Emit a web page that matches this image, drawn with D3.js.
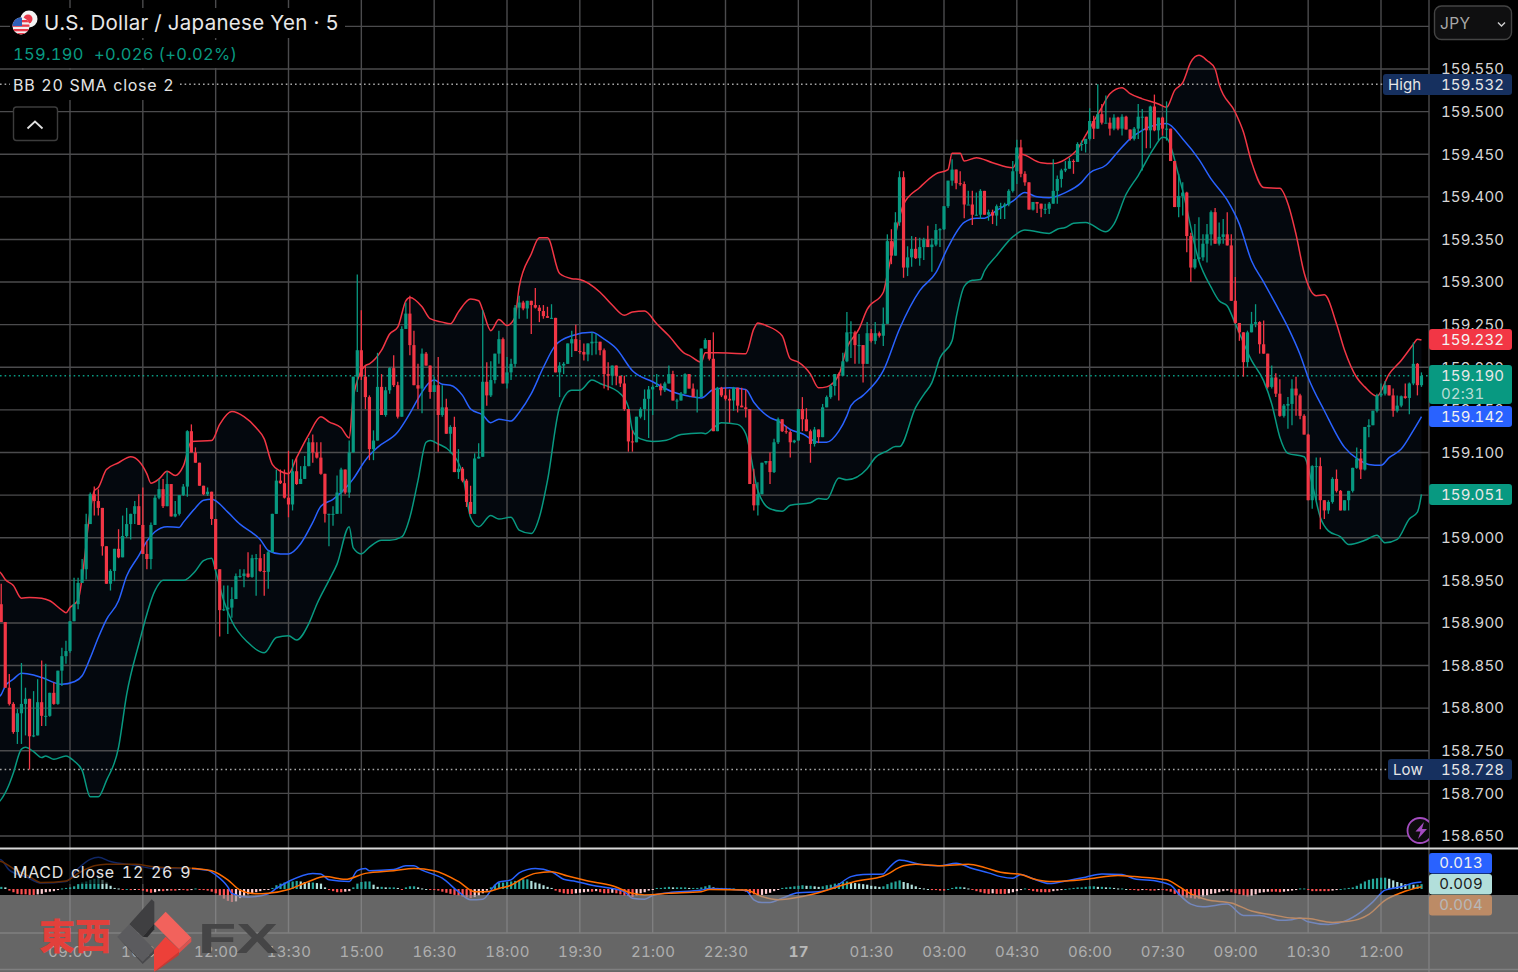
<!DOCTYPE html>
<html>
<head>
<meta charset="utf-8">
<title>USD/JPY 5</title>
<script src="https://cdn.jsdelivr.net/npm/d3@7"></script>
<style>
    html, body { margin: 0; padding: 0; background: #000; overflow: hidden; }
    text { font-family: Inter, "Liberation Sans", sans-serif; font-variant-numeric: tabular-nums; }
</style>
</head>
<body>
<svg id="chart" width="1518" height="972"></svg>
<script>
"use strict";

//// candles: first bar is 07:35, every bar is 5 minutes, bar 0 is 09:00
const firstBar = -17;
const firstOpen = 158.922;
const closes = [
    158.901,158.824,158.805,158.772,158.794,158.805,158.811,158.767,158.768,158.807,158.791,158.791,158.818,158.805,158.844,158.861,158.867,
    158.902,158.922,158.947,158.963,159.016,159.051,159.043,159.035,158.990,158.946,158.961,158.987,158.977,159.002,159.016,159.028,159.037,159.015,158.981,158.975,
    159.015,159.047,159.057,159.037,159.063,159.025,159.028,159.050,159.060,159.125,159.100,159.088,159.061,159.051,159.054,159.022,158.963,158.915,158.916,158.918,
    158.928,158.955,158.955,158.958,158.954,158.976,158.976,158.961,158.960,158.983,159.028,159.067,159.064,159.047,159.039,159.078,159.063,159.069,159.084,159.112,
    159.100,159.094,159.075,159.028,159.028,159.028,159.053,159.080,159.053,159.100,
    159.189,159.220,159.189,159.165,159.104,159.114,159.177,159.144,159.173,159.199,159.179,159.142,159.245,159.263,159.226,159.179,159.175,159.216,159.202,159.171,
    159.179,159.144,159.153,159.122,159.130,159.077,159.081,159.067,159.042,159.028,159.093,159.095,159.183,159.167,159.185,159.216,159.233,159.181,159.194,159.204,
    159.270,159.276,159.269,159.278,159.273,159.270,159.266,159.260,159.258,159.258,159.194,159.202,159.204,159.228,159.233,159.219,159.218,159.215,159.228,159.230,
    159.230,159.220,159.192,159.190,159.202,159.190,159.181,159.151,159.113,159.112,159.142,159.151,159.163,159.174,159.177,159.178,159.173,159.181,159.192,159.161,
    159.161,159.169,159.192,159.175,159.165,
    159.165,159.222,159.232,159.210,159.125,159.176,159.167,159.163,159.161,159.176,159.155,159.153,159.151,159.063,159.038,159.051,159.088,159.090,159.077,159.112,
    159.139,159.125,159.124,159.112,159.114,159.151,159.139,159.125,159.110,159.127,159.118,159.153,159.165,159.178,159.192,159.190,159.207,159.241,159.241,159.226,
    159.226,159.204,159.240,159.231,159.240,159.237,159.251,159.348,159.331,159.370,159.423,159.317,159.329,159.339,159.328,159.341,159.350,159.341,159.344,159.361,
    159.362,159.389,159.419,159.432,159.416,159.415,159.391,159.391,159.379,159.379,159.407,159.379,159.382,159.378,159.389,159.389,159.391,159.407,159.430,159.458,
    159.427,159.417,159.385,
    159.394,159.392,159.386,159.386,159.392,159.407,159.421,159.431,159.433,159.442,159.441,159.462,159.462,159.468,159.489,159.480,159.497,159.487,159.487,159.480,
    159.493,159.480,159.494,159.479,159.468,159.480,159.494,159.494,159.478,159.506,159.478,159.493,159.480,159.480,159.442,159.388,159.401,159.405,159.354,159.317,
    159.327,159.329,159.345,159.356,159.382,159.345,159.353,159.356,159.343,159.278,159.252,159.241,159.206,159.241,159.251,159.253,159.227,159.216,159.177,159.188,
    159.169,159.143,159.155,159.157,159.175,159.167,159.143,159.121,159.044,159.084,159.084,159.044,159.032,159.042,159.069,159.055,159.032,159.044,159.055,159.082,
    159.093,159.080,159.130,159.132,159.149,159.167,159.169,159.179,159.167,159.149,159.155,159.166,159.164,159.181,159.204,159.179,159.190
];
const highs = [
    158.946,158.901,158.840,158.807,158.799,158.853,158.824,158.811,158.820,158.834,158.856,158.852,158.818,158.830,158.844,158.871,158.879,
    158.902,158.953,158.953,158.975,159.028,159.053,159.060,159.057,159.035,158.990,158.963,158.987,159.010,159.026,159.035,159.028,159.043,159.051,159.059,158.996,
    159.018,159.050,159.069,159.069,159.078,159.063,159.043,159.050,159.063,159.126,159.133,159.106,159.088,159.061,159.059,159.054,159.022,158.963,158.944,158.944,
    158.942,158.958,158.963,158.963,158.983,158.980,158.981,158.992,158.981,158.985,159.028,159.080,159.080,159.080,159.102,159.092,159.094,159.084,159.096,159.117,
    159.121,159.112,159.112,159.075,159.028,159.037,159.073,159.082,159.080,159.114,
    159.189,159.309,159.267,159.202,159.167,159.126,159.217,159.192,159.177,159.200,159.214,159.183,159.248,159.276,159.284,159.243,159.204,159.222,159.218,159.202,
    159.189,159.212,159.179,159.163,159.132,159.142,159.104,159.083,159.069,159.061,159.099,159.111,159.267,159.206,159.207,159.216,159.243,159.235,159.212,159.210,
    159.273,159.284,159.278,159.278,159.278,159.293,159.273,159.273,159.271,159.274,159.258,159.206,159.206,159.228,159.243,159.250,159.232,159.228,159.228,159.241,
    159.239,159.230,159.222,159.206,159.202,159.200,159.190,159.190,159.151,159.126,159.142,159.153,159.174,159.178,159.179,159.192,159.181,159.183,159.202,159.196,
    159.163,159.171,159.193,159.189,159.181,
    159.174,159.222,159.234,159.229,159.241,159.177,159.177,159.176,159.174,159.177,159.176,159.176,159.174,159.151,159.081,159.065,159.088,159.090,159.100,159.116,
    159.141,159.139,159.131,159.126,159.115,159.151,159.165,159.152,159.127,159.130,159.127,159.157,159.167,159.180,159.192,159.194,159.217,159.265,159.254,159.243,
    159.239,159.226,159.253,159.245,159.253,159.242,159.270,159.356,159.362,159.382,159.430,159.430,159.342,159.354,159.353,159.352,159.352,159.366,159.351,159.368,
    159.363,159.389,159.419,159.444,159.432,159.430,159.418,159.407,159.407,159.405,159.409,159.407,159.385,159.385,159.391,159.393,159.393,159.409,159.442,159.467,
    159.467,159.430,159.417,
    159.394,159.392,159.392,159.392,159.394,159.444,159.425,159.433,159.442,159.446,159.444,159.464,159.466,159.468,159.504,159.495,159.532,159.509,159.519,159.493,
    159.497,159.494,159.497,159.495,159.479,159.482,159.509,159.503,159.494,159.507,159.520,159.493,159.494,159.512,159.480,159.442,159.427,159.417,159.406,159.358,
    159.368,159.376,159.356,159.368,159.384,159.387,159.370,159.374,159.382,159.356,159.306,159.252,159.241,159.243,159.265,159.274,159.254,159.255,159.216,159.202,
    159.193,159.186,159.157,159.165,159.186,159.189,159.169,159.145,159.122,159.085,159.094,159.094,159.044,159.044,159.071,159.080,159.056,159.044,159.055,159.082,
    159.106,159.104,159.130,159.139,159.149,159.169,159.181,159.184,159.179,159.175,159.167,159.167,159.181,159.182,159.229,159.205,159.194
];
const lows = [
    158.901,158.824,158.803,158.770,158.758,158.758,158.768,158.728,158.766,158.768,158.779,158.779,158.790,158.804,158.804,158.826,158.852,
    158.865,158.902,158.916,158.947,158.951,159.016,159.026,159.026,158.979,158.946,158.938,158.949,158.976,158.977,159.000,158.998,159.016,159.015,158.981,158.963,
    158.963,159.015,159.045,159.035,159.037,159.025,159.024,159.026,159.049,159.048,159.100,159.088,159.061,159.050,159.049,159.015,158.963,158.884,158.914,158.887,
    158.906,158.928,158.953,158.942,158.953,158.953,158.932,158.960,158.932,158.940,158.985,159.028,159.063,159.046,159.024,159.032,159.062,159.063,159.069,159.084,
    159.088,159.093,159.074,159.018,158.990,159.014,159.028,159.028,159.051,159.047,
    159.101,159.171,159.185,159.151,159.091,159.091,159.132,159.144,159.142,159.169,159.177,159.140,159.142,159.245,159.214,159.179,159.151,159.146,159.202,159.163,
    159.171,159.101,159.142,159.122,159.099,159.077,159.069,159.065,159.036,159.028,159.028,159.093,159.095,159.155,159.165,159.181,159.204,159.181,159.175,159.185,
    159.200,159.257,159.267,159.257,159.239,159.269,159.253,159.257,159.258,159.257,159.194,159.165,159.192,159.204,159.212,159.219,159.216,159.208,159.207,159.214,
    159.215,159.214,159.175,159.173,159.179,159.179,159.177,159.149,159.101,159.101,159.112,159.140,159.138,159.117,159.144,159.177,159.167,159.171,159.181,159.161,
    159.151,159.161,159.169,159.175,159.165,
    159.147,159.165,159.222,159.208,159.125,159.125,159.165,159.161,159.135,159.149,159.147,159.153,159.141,159.063,159.032,159.026,159.051,159.086,159.063,159.076,
    159.110,159.124,159.122,159.094,159.111,159.114,159.125,159.125,159.088,159.107,159.111,159.118,159.153,159.163,159.167,159.161,159.190,159.206,159.211,159.204,
    159.204,159.182,159.204,159.229,159.227,159.235,159.225,159.251,159.321,159.331,159.366,159.305,159.307,159.318,159.327,159.319,159.326,159.341,159.312,159.342,
    159.341,159.361,159.387,159.413,159.409,159.413,159.375,159.391,159.367,159.378,159.374,159.379,159.372,159.368,159.366,159.374,159.374,159.389,159.405,159.415,
    159.423,159.413,159.385,
    159.384,159.381,159.376,159.380,159.380,159.392,159.392,159.411,159.429,159.433,159.427,159.441,159.454,159.452,159.466,159.468,159.480,159.485,159.487,159.472,
    159.478,159.478,159.472,159.479,159.466,159.466,159.468,159.431,159.457,159.457,159.477,159.466,159.472,159.466,159.442,159.388,159.376,159.378,159.335,159.300,
    159.315,159.325,159.325,159.323,159.343,159.345,159.343,159.345,159.343,159.278,159.251,159.231,159.189,159.200,159.241,159.247,159.216,159.216,159.175,159.175,
    159.165,159.142,159.141,159.128,159.132,159.143,159.139,159.121,159.044,159.034,159.044,159.010,159.022,159.028,159.040,159.053,159.032,159.032,159.032,159.053,
    159.081,159.069,159.079,159.118,159.132,159.147,159.165,159.167,159.167,159.142,159.147,159.153,159.163,159.145,159.179,159.167,159.177
];

//// bollinger bands, [bar, price] read at the bends of each line
const bbUpper = [[-18,158.962],[-17,158.958],[-16,158.951],[-14,158.944],[-12,158.929],[-10,158.930],[-7,158.929],[-5,158.926],[-2,158.915],[-1,158.912],[0,158.918],[2,158.927],[3,158.953],[5,159.032],[6,159.055],[7,159.059],[9,159.080],[12,159.088],[15,159.095],[17,159.090],[19,159.075],[20,159.064],[22,159.069],[24,159.078],[26,159.073],[28,159.084],[30,159.113],[35,159.114],[37,159.133],[40,159.148],[43,159.142],[46,159.129],[48,159.116],[50,159.086],[52,159.078],[54,159.075],[56,159.094],[59,159.121],[62,159.142],[64,159.136],[67,159.129],[69,159.117],[70,159.165],[73,159.202],[74,159.204],[77,159.220],[79,159.239],[81,159.247],[83,159.278],[84,159.282],[87,159.271],[89,159.257],[92,159.253],[94,159.251],[96,159.265],[99,159.280],[101,159.278],[102,159.267],[104,159.243],[106,159.256],[108,159.249],[110,159.259],[111,159.294],[114,159.333],[116,159.352],[118,159.352],[121,159.310],[124,159.304],[126,159.303],[131,159.288],[134,159.273],[137,159.261],[139,159.265],[142,159.266],[145,159.251],[148,159.237],[152,159.216],[153,159.214],[156,159.206],[157,159.217],[160,159.217],[167,159.216],[169,159.245],[170,159.252],[172,159.249],[176,159.237],[178,159.210],[180,159.206],[183,159.192],[185,159.176],[187,159.177],[190,159.191],[192,159.223],[195,159.245],[197,159.268],[201,159.288],[202,159.309],[206,159.391],[210,159.411],[214,159.427],[217,159.432],[218,159.451],[220,159.451],[221,159.442],[224,159.446],[228,159.440],[233,159.434],[235,159.450],[240,159.440],[243,159.439],[246,159.444],[249,159.456],[251,159.472],[255,159.505],[257,159.521],[260,159.528],[262,159.521],[265,159.515],[269,159.509],[271,159.505],[273,159.525],[275,159.534],[277,159.558],[279,159.566],[281,159.560],[283,159.550],[284,159.532],[288,159.499],[290,159.476],[292,159.441],[295,159.411],[299,159.410],[301,159.392],[303,159.356],[305,159.311],[308,159.284],[310,159.285],[313,159.251],[315,159.220],[318,159.188],[320,159.177],[323,159.166],[326,159.192],[329,159.208],[332,159.227],[333,159.233],[334,159.232]];
const bbBasis = [[-18,158.812],[-17,158.816],[-16,158.826],[-14,158.834],[-12,158.841],[-9,158.839],[-7,158.836],[-2,158.828],[1,158.831],[3,158.838],[5,158.859],[7,158.883],[9,158.904],[12,158.926],[14,158.955],[17,158.979],[19,158.996],[21,159.007],[24,159.013],[27,159.012],[28,159.018],[31,159.035],[33,159.044],[35,159.045],[39,159.030],[42,159.016],[45,159.006],[47,158.998],[49,158.985],[52,158.981],[54,158.981],[57,158.993],[60,159.018],[62,159.037],[65,159.045],[69,159.063],[70,159.069],[73,159.091],[76,159.106],[81,159.124],[84,159.146],[86,159.163],[89,159.183],[90,159.185],[92,159.180],[94,159.179],[97,159.167],[99,159.151],[102,159.144],[104,159.135],[106,159.139],[109,159.137],[111,159.147],[114,159.169],[117,159.200],[120,159.226],[124,159.237],[129,159.241],[132,159.233],[135,159.222],[139,159.196],[144,159.183],[149,159.171],[153,159.166],[156,159.164],[159,159.174],[163,159.176],[167,159.174],[169,159.159],[173,159.141],[175,159.137],[178,159.127],[181,159.122],[185,159.112],[187,159.112],[190,159.125],[192,159.143],[193,159.155],[196,159.167],[201,159.196],[205,159.245],[210,159.290],[214,159.311],[217,159.341],[221,159.370],[224,159.375],[226,159.375],[229,159.384],[233,159.395],[236,159.405],[239,159.400],[242,159.399],[246,159.405],[250,159.417],[252,159.428],[256,159.437],[259,159.453],[262,159.468],[265,159.478],[271,159.486],[275,159.468],[279,159.444],[282,159.421],[286,159.396],[289,159.368],[292,159.325],[295,159.300],[298,159.274],[301,159.247],[304,159.215],[306,159.188],[310,159.149],[315,159.106],[318,159.093],[321,159.086],[324,159.085],[326,159.094],[329,159.104],[332,159.126],[334,159.142]];
const bbLower = [[-18,158.688],[-17,158.693],[-15,158.711],[-14,158.724],[-12,158.752],[-11,158.754],[-9,158.749],[-7,158.742],[-6,158.744],[-4,158.740],[-1,158.744],[1,158.738],[3,158.727],[5,158.696],[7,158.696],[9,158.715],[12,158.754],[14,158.816],[17,158.875],[21,158.938],[23,158.950],[28,158.950],[31,158.961],[33,158.973],[35,158.976],[36,158.961],[38,158.926],[40,158.902],[44,158.877],[48,158.865],[51,158.883],[54,158.885],[56,158.880],[59,158.899],[61,158.922],[64,158.950],[66,158.969],[69,159.013],[70,158.988],[72,158.981],[74,158.989],[77,158.997],[79,158.997],[82,159.001],[84,159.024],[86,159.067],[88,159.112],[89,159.114],[91,159.110],[94,159.101],[97,159.075],[99,159.024],[101,159.013],[104,159.026],[106,159.022],[109,159.024],[111,159.009],[114,159.005],[116,159.024],[118,159.067],[121,159.153],[124,159.173],[126,159.173],[129,159.185],[131,159.181],[136,159.169],[138,159.153],[139,159.126],[141,159.116],[144,159.113],[147,159.114],[151,159.121],[156,159.123],[157,159.122],[159,159.129],[161,159.135],[165,159.133],[167,159.122],[170,159.055],[173,159.034],[176,159.031],[178,159.038],[183,159.041],[185,159.046],[187,159.045],[190,159.070],[192,159.068],[197,159.081],[199,159.094],[202,159.102],[204,159.107],[205,159.107],[209,159.153],[211,159.168],[213,159.182],[215,159.211],[218,159.231],[219,159.258],[221,159.295],[223,159.302],[225,159.303],[226,159.313],[229,159.331],[233,159.353],[236,159.361],[242,159.357],[244,159.362],[246,159.364],[248,159.369],[251,159.370],[256,159.359],[258,159.368],[261,159.403],[264,159.425],[268,159.458],[270,159.470],[271,159.469],[274,159.425],[275,159.407],[279,159.325],[282,159.294],[284,159.278],[286,159.272],[288,159.251],[292,159.208],[295,159.184],[297,159.157],[299,159.118],[301,159.099],[305,159.095],[307,159.063],[309,159.024],[311,159.008],[314,159.001],[316,158.992],[320,158.997],[323,159.003],[325,158.994],[328,158.998],[331,159.022],[333,159.030],[334,159.051]];

//// macd pane
const macdLine = [[-18,0.056],[-17,0.054],[-15,0.035],[-11,0.023],[-7,0.011],[-1,0.014],[2,0.038],[5,0.055],[7,0.059],[10,0.051],[16,0.044],[21,0.038],[29,0.038],[34,0.035],[36,0.026],[39,0.004],[40,-0.008],[44,-0.015],[49,-0.009],[51,0.001],[54,0.014],[60,0.029],[62,0.028],[64,0.017],[69,0.014],[71,0.034],[73,0.038],[74,0.034],[80,0.036],[83,0.043],[85,0.043],[87,0.035],[92,0.020],[96,-0.005],[99,-0.020],[102,-0.019],[105,0.007],[106,0.013],[109,0.017],[111,0.030],[113,0.036],[115,0.038],[119,0.032],[122,0.018],[125,0.014],[129,0.007],[134,0.001],[137,-0.005],[139,-0.017],[142,-0.019],[144,-0.012],[148,-0.007],[156,-0.002],[158,0.001],[167,-0.003],[169,-0.020],[171,-0.025],[173,-0.025],[176,-0.017],[180,-0.007],[185,-0.005],[189,0.004],[193,0.023],[196,0.027],[201,0.028],[202,0.036],[205,0.054],[210,0.046],[215,0.043],[219,0.048],[223,0.038],[227,0.030],[230,0.023],[233,0.020],[235,0.027],[238,0.019],[242,0.010],[246,0.015],[251,0.022],[255,0.028],[260,0.027],[263,0.019],[269,0.014],[272,0.007],[274,-0.009],[277,-0.028],[280,-0.033],[286,-0.028],[290,-0.049],[294,-0.049],[299,-0.058],[302,-0.057],[304,-0.054],[306,-0.061],[311,-0.066],[315,-0.060],[319,-0.043],[322,-0.024],[325,-0.002],[329,0.004],[332,0.011],[334,0.013]];
const macdSignal = [[-18,0.053],[-17,0.051],[-14,0.038],[-10,0.023],[-7,0.012],[-1,0.015],[2,0.029],[6,0.043],[9,0.046],[16,0.046],[21,0.041],[31,0.038],[35,0.034],[39,0.017],[42,-0.002],[46,-0.009],[49,-0.008],[54,-0.001],[59,0.014],[63,0.023],[68,0.018],[73,0.029],[80,0.034],[85,0.038],[90,0.034],[96,0.014],[100,-0.005],[103,-0.005],[106,0.001],[109,0.007],[112,0.020],[115,0.029],[119,0.032],[123,0.024],[128,0.015],[134,0.006],[139,-0.008],[142,-0.011],[148,-0.008],[156,-0.005],[158,-0.001],[167,-0.002],[171,-0.014],[175,-0.020],[181,-0.014],[185,-0.007],[194,0.014],[201,0.024],[206,0.043],[209,0.046],[215,0.043],[222,0.046],[226,0.040],[230,0.031],[235,0.027],[238,0.019],[242,0.014],[246,0.015],[252,0.019],[259,0.025],[263,0.023],[271,0.017],[274,0.005],[277,-0.009],[281,-0.020],[287,-0.026],[292,-0.041],[298,-0.049],[302,-0.054],[306,-0.055],[312,-0.062],[316,-0.060],[321,-0.047],[325,-0.021],[329,-0.007],[334,0.004]];
const macdHist = [
    0.004,0.003,-0.003,-0.006,-0.009,-0.010,-0.010,-0.011,-0.011,-0.010,-0.009,-0.006,-0.005,-0.004,-0.002,0.001,0.002,
    0.003,0.005,0.009,0.012,0.014,0.017,0.019,0.020,0.017,0.012,0.006,0.002,0.001,-0.001,0,-0.002,-0.001,-0.001,-0.003,-0.005,-0.007,-0.006,-0.004,-0.004,-0.003,-0.003,-0.003,-0.002,-0.002,-0.003,-0.002,0.001,
    -0.001,-0.002,-0.003,-0.005,-0.008,-0.012,-0.018,-0.022,-0.024,-0.023,-0.017,-0.013,-0.010,-0.008,-0.006,-0.004,-0.002,-0.001,0.002,0.007,0.010,0.012,0.014,0.014,0.015,0.014,0.013,0.012,0.012,0.011,0.010,
    0.003,-0.002,-0.004,-0.006,-0.006,-0.005,-0.004,0.003,0.010,0.013,0.014,0.014,0.008,0.004,0.004,0.003,0.003,0.003,0.002,-0.001,0.003,0.005,0.005,0.003,0.001,0,-0.001,-0.002,-0.003,-0.005,-0.007,-0.009,-0.011,-0.012,-0.014,-0.016,-0.017,-0.015,-0.012,-0.008,-0.003,0.003,0.008,0.012,0.012,
    0.013,0.014,0.015,0.016,0.018,0.018,0.015,0.012,0.010,0.007,0.004,0.002,-0.003,-0.006,-0.008,-0.009,-0.009,-0.008,-0.007,-0.006,-0.005,-0.005,-0.004,-0.006,-0.008,-0.008,-0.007,-0.008,-0.010,-0.012,-0.013,-0.015,-0.012,-0.008,-0.006,-0.003,-0.001,
    0.002,0.002,0.003,0.004,0.003,0.003,0.003,0.003,0.002,0.002,0.002,0.003,0.005,0.007,0.003,0.002,0.002,0.001,0.001,0.001,0,-0.002,-0.005,-0.008,-0.010,-0.012,-0.011,-0.009,-0.007,-0.004,-0.001,0.002,0.003,0.004,0.005,0.006,0.007,0.006,0.006,0.005,0.004,
    0.005,0.007,0.008,0.010,0.011,0.013,0.014,0.013,0.011,0.010,0.009,0.008,0.006,0.005,0.004,0.005,0.009,0.012,0.014,0.016,0.013,0.011,0.008,0.005,0.002,0.001,0,-0.002,-0.002,-0.003,-0.003,0,0.002,0.004,0.004,0.003,0.001,-0.001,-0.004,-0.006,-0.008,-0.009,-0.008,-0.009,-0.009,
    -0.009,-0.008,-0.006,-0.004,-0.002,0.001,-0.002,-0.004,-0.005,-0.006,-0.006,-0.006,-0.004,-0.003,-0.002,0,0.001,0.002,0.003,0.003,0.004,0.005,0.005,0.004,0.004,0.003,0.003,0.002,0.001,0.001,0,-0.001,-0.002,-0.003,-0.002,-0.002,-0.003,-0.003,-0.002,-0.002,-0.003,-0.005,-0.009,-0.012,-0.014,-0.016,-0.017,-0.018,-0.018,-0.014,-0.012,-0.009,-0.008,-0.006,-0.004,-0.003,-0.006,-0.008,-0.010,-0.012,-0.014,-0.013,-0.010,-0.007,-0.006,-0.005,-0.005,-0.005,-0.006,-0.005,-0.004,-0.003,-0.002,0.001,0.001,-0.002,-0.004,-0.004,-0.004,-0.004,-0.004,-0.003,-0.002,0,0.001,0.002,0.003,0.006,0.010,0.014,0.017,0.019,0.020,0.021,0.021,0.019,0.016,0.013,0.011,0.009,0.009,0.008,0.008,0.009
];

//// axis labels
const priceTicks = [159.55,159.50,159.45,159.40,159.35,159.30,159.25,159.20,159.15,159.10,159.05,159.00,158.95,158.90,158.85,158.80,158.75,158.70,158.65];
const timeLabels = ["09:00","10:30","12:00","13:30","15:00","16:30","18:00","19:30","21:00","22:30","17","01:30","03:00","04:30","06:00","07:30","09:00","10:30","12:00"];
const dayHigh = 159.532, dayLow = 158.728, lastPrice = 159.19;

//// colors
const upColor = "#089981", downColor = "#f23645", basisColor = "#2962ff", signalColor = "#ff6d00";
const gridColor = "#4b4b4d", axisText = "#d6d6d6";

const paneRight = 1429;
const svg = d3.select("#chart");

const x = d3.scaleLinear().domain([0, 324]).range([70, 1381]);
const y = d3.scaleLinear().domain([159.55, 158.65]).range([69, 836]);
const macdY = d3.scaleLinear().domain([0, 0.013]).range([889, 882]);

svg.append("defs").append("clipPath").attr("id", "paneClip")
    .append("rect").attr("width", paneRight).attr("height", 972);

const pane = svg.append("g").attr("clip-path", "url(#paneClip)");

//// band fill below the grid
const priceLine = d3.line().x(d => x(d[0])).y(d => y(d[1])).curve(d3.curveMonotoneX);
pane.append("path")
    .attr("d", d3.line().x(d => x(d[0])).y(d => y(d[1])).curve(d3.curveLinear)(bbUpper.concat(bbLower.slice().reverse())) + "Z")
    .attr("fill", "#04080e");

//// grid
pane.append("g").selectAll("line").data([159.6].concat(priceTicks)).enter().append("line")
    .attr("x1", 0).attr("x2", paneRight)
    .attr("y1", d => y(d)).attr("y2", d => y(d))
    .attr("stroke", gridColor).attr("stroke-width", 1.4);
pane.append("g").selectAll("line").data(timeLabels).enter().append("line")
    .attr("x1", (d, i) => x(i * 18)).attr("x2", (d, i) => x(i * 18))
    .attr("y1", 0).attr("y2", 933)
    .attr("stroke", gridColor).attr("stroke-width", 1.4);

//// legend backgrounds hide the grid
[[10, 8, 335, 30], [10, 40, 235, 28], [10, 70, 170, 30]].forEach(function (r) {
    pane.append("rect").attr("x", r[0]).attr("y", r[1]).attr("width", r[2]).attr("height", r[3]).attr("fill", "#000");
});

//// high, low and last price lines
function dotted(x1, x2, price, color) {
    pane.append("line").attr("x1", x1).attr("x2", x2).attr("y1", y(price)).attr("y2", y(price))
        .attr("stroke", color).attr("stroke-width", 1.5).attr("stroke-dasharray", "1.6,3");
}
dotted(0, 10, dayHigh, "#a6a6a6");
dotted(180, 1383, dayHigh, "#a6a6a6");
dotted(0, 1388, dayLow, "#a6a6a6");
dotted(0, paneRight, lastPrice, upColor);

//// bollinger lines
[[bbUpper, downColor], [bbBasis, basisColor], [bbLower, upColor]].forEach(function (s) {
    pane.append("path").attr("d", priceLine(s[0]))
        .attr("fill", "none").attr("stroke", s[1]).attr("stroke-width", 1.5);
});

//// candles
const candles = closes.map(function (c, i) {
    const open = i === 0 ? firstOpen : closes[i - 1];
    return { bar: firstBar + i, open: open, close: c, high: highs[i], low: lows[i] };
});
const candle = pane.append("g").selectAll("g").data(candles).enter().append("g")
    .attr("fill", d => d.close >= d.open ? upColor : downColor)
    .attr("stroke", d => d.close >= d.open ? upColor : downColor);
candle.append("line")
    .attr("x1", d => x(d.bar)).attr("x2", d => x(d.bar))
    .attr("y1", d => y(Math.max(d.high, d.open, d.close))).attr("y2", d => y(Math.min(d.low, d.open, d.close)))
    .attr("stroke-width", 1.3);
candle.append("rect")
    .attr("x", d => x(d.bar) - 1.6).attr("width", 3.2)
    .attr("y", d => y(Math.max(d.open, d.close)))
    .attr("height", d => Math.max(1, Math.abs(y(d.open) - y(d.close))))
    .attr("stroke", "none");

//// macd histogram, color from the change to the previous bar
pane.append("g").selectAll("rect").data(macdHist).enter().append("rect")
    .attr("x", (d, i) => x(firstBar + i) - 1)
    .attr("width", 2.2)
    .attr("y", d => Math.min(macdY(d), macdY(0)))
    .attr("height", d => Math.max(1, Math.abs(macdY(d) - macdY(0))))
    .attr("fill", function (d, i) {
        const prev = i === 0 ? d : macdHist[i - 1];
        if (d >= 0) return d >= prev ? "#26a69a" : "#b2dfdb";
        return d <= prev ? "#ff5252" : "#ffcdd2";
    });

const macdPath = d3.line().x(d => x(d[0])).y(d => macdY(d[1])).curve(d3.curveMonotoneX);
pane.append("path").attr("d", macdPath(macdLine)).attr("fill", "none").attr("stroke", basisColor).attr("stroke-width", 1.5);
pane.append("path").attr("d", macdPath(macdSignal)).attr("fill", "none").attr("stroke", signalColor).attr("stroke-width", 1.5);

//// the macd legend dims the lines behind it
pane.append("rect").attr("x", 0).attr("y", 850).attr("width", 192).attr("height", 34).attr("fill", "#000").attr("opacity", 0.6);

//// price axis
const priceAxis = svg.append("g")
    .attr("transform", "translate(" + (paneRight + 12) + ",0)")
    .call(d3.axisRight(y).tickValues(priceTicks).tickFormat(d3.format(".3f")).tickSize(0).tickPadding(0));
priceAxis.select(".domain").remove();
priceAxis.selectAll("text")
    .attr("fill", axisText).style("font-size", "15px").style("letter-spacing", "0.1px")
    .style("font-family", "Inter");

//// time axis
const timeAxis = svg.append("g")
    .attr("transform", "translate(0,952)")
    .call(d3.axisBottom(x)
        .tickValues(timeLabels.map((d, i) => i * 18))
        .tickFormat((d, i) => timeLabels[i]).tickSize(0).tickPadding(0));
timeAxis.select(".domain").remove();
timeAxis.selectAll("text")
    .attr("dy", "0.36em").attr("y", 0)
    .attr("fill", d => d === 180 ? "#f4f4f4" : axisText)
    .style("font-size", "15px").style("letter-spacing", "0.3px")
    .style("font-weight", d => d === 180 ? "700" : "400")
    .style("font-family", "Inter");

//// pane borders
svg.append("line").attr("x1", paneRight).attr("x2", paneRight).attr("y1", 0).attr("y2", 972).attr("stroke", gridColor).attr("stroke-width", 1.4);
svg.append("line").attr("x1", 0).attr("x2", 1518).attr("y1", 848.5).attr("y2", 848.5).attr("stroke", "#d8d8d8").attr("stroke-width", 1.8);
svg.append("line").attr("x1", 0).attr("x2", 1518).attr("y1", 933).attr("y2", 933).attr("stroke", gridColor).attr("stroke-width", 1.4);
svg.append("line").attr("x1", 0).attr("x2", 1518).attr("y1", 969.5).attr("y2", 969.5).attr("stroke", gridColor).attr("stroke-width", 1.4);

//// price tags on the axis
function tagText(px, py, label, color, anchor) {
    svg.append("text").attr("x", px).attr("y", py).attr("dy", "0.36em")
        .attr("text-anchor", anchor || "start")
        .attr("fill", color).style("font-size", "15px").style("letter-spacing", "0.1px").text(label);
}
function tag(x0, top, w, h, fill) {
    svg.append("rect").attr("x", x0).attr("y", top).attr("width", w).attr("height", h).attr("rx", 3).attr("fill", fill);
}
tag(1383, 74, 129, 21, "#16305f");
tagText(1441, 84.5, "159.532", "#e6e6e6");
tagText(1388, 84.5, "High", "#e6e6e6");
tag(1388, 759, 124, 21, "#16305f");
tagText(1441, 769.5, "158.728", "#e6e6e6");
tagText(1393, 769.5, "Low", "#e6e6e6");
tag(1429, 329, 83, 21, downColor);
tagText(1441, 339.5, "159.232", "#f4f4f4");
tag(1429, 365, 83, 39, upColor);
tagText(1441, 376, "159.190", "#e8e8e8");
tagText(1441, 394, "02:31", "#b8dcd5");
tag(1429, 406, 83, 21, basisColor);
tagText(1441, 416.5, "159.142", "#f0f0f0");
tag(1429, 484, 83, 21, upColor);
tagText(1441, 494.5, "159.051", "#e8e8e8");
tag(1429, 853, 63, 20.5, basisColor);
tagText(1461, 863, "0.013", "#f0f0f0", "middle");
tag(1429, 874, 63, 20.5, "#b2dfdb");
tagText(1461, 884, "0.009", "#1a1a1a", "middle");
tag(1429, 895, 63, 20.5, signalColor);
tagText(1461, 905, "0.004", "#f0f0f0", "middle");

//// currency button
svg.append("rect").attr("x", 1434.5).attr("y", 6).attr("width", 77).attr("height", 33.5).attr("rx", 7).attr("fill", "#0f0f10").attr("stroke", "#444").attr("stroke-width", 1.4);
svg.append("text").attr("x", 1440).attr("y", 23).attr("dy", "0.36em").attr("fill", "#a8a8a8").style("font-size", "15.5px").style("letter-spacing", "0.4px").text("JPY");
svg.append("path").attr("d", "M1498,22.5l3.5,3.5l3.5,-3.5").attr("fill", "none").attr("stroke", "#cfcfcf").attr("stroke-width", 1.4);

//// legend
svg.append("text").attr("x", 44).attr("y", 23).attr("dy", "0.36em").attr("fill", "#e8e8e8").style("font-size", "20.5px").style("letter-spacing", "0.3px").text("U.S. Dollar / Japanese Yen · 5");
svg.append("text").attr("x", 13).attr("y", 54).attr("dy", "0.36em").attr("fill", upColor).style("font-size", "16.5px").style("letter-spacing", "0.3px").text("159.190");
svg.append("text").attr("x", 94).attr("y", 54).attr("dy", "0.36em").attr("fill", upColor).style("font-size", "16.5px").style("letter-spacing", "0.3px").text("+0.026 (+0.02%)");
svg.append("text").attr("x", 13).attr("y", 85).attr("dy", "0.36em").attr("fill", "#e4e4e4").style("font-size", "16px").style("letter-spacing", "0.7px").style("word-spacing", "1px").text("BB 20 SMA close 2");
svg.append("text").attr("x", 13).attr("y", 872).attr("dy", "0.36em").attr("fill", "#e4e4e4").style("font-size", "16px").style("letter-spacing", "0.7px").style("word-spacing", "2px").text("MACD close 12 26 9");

//// collapse button
svg.append("rect").attr("x", 13.5).attr("y", 107).attr("width", 44).attr("height", 33.5).attr("rx", 3).attr("fill", "#000").attr("stroke", "#3c3c3c").attr("stroke-width", 1.4);
svg.append("path").attr("d", "M27.5,128.5l7.5,-7l7.5,7").attr("fill", "none").attr("stroke", "#e0e0e0").attr("stroke-width", 1.8);

//// flags
const flags = svg.append("defs");
flags.append("clipPath").attr("id", "usClip").append("circle").attr("cx", 21).attr("cy", 26).attr("r", 8.5);
svg.append("circle").attr("cx", 29).attr("cy", 19).attr("r", 8.5).attr("fill", "#f4f4f4");
svg.append("circle").attr("cx", 28).attr("cy", 19).attr("r", 4.5).attr("fill", "#e8394a");
const us = svg.append("g").attr("clip-path", "url(#usClip)");
us.append("rect").attr("x", 12).attr("y", 17).attr("width", 18).attr("height", 18).attr("fill", "#f0f0f0");
[20, 24.5, 29, 33].forEach(function (r) {
    us.append("rect").attr("x", 12).attr("y", r).attr("width", 18).attr("height", 2.3).attr("fill", "#e8394a");
});
us.append("rect").attr("x", 12).attr("y", 17).attr("width", 10).attr("height", 9).attr("fill", "#2f5fb8");

//// lightning badge
svg.append("g").attr("clip-path", "url(#paneClip)").call(function (g) {
    g.append("circle").attr("cx", 1420).attr("cy", 830.5).attr("r", 12.5).attr("fill", "#0c0c0c").attr("stroke", "#a44cc0").attr("stroke-width", 1.8);
    g.append("path").attr("d", "M1424,822l-8.5,9.5h5l-2.5,7.5l9,-10h-5z").attr("fill", "#a44cc0");
});

//// gray veil over the bottom of the picture
svg.append("rect").attr("x", 0).attr("y", 895).attr("width", 1518).attr("height", 77).attr("fill", "rgb(154,154,154)").attr("opacity", 0.663);

//// watermark
svg.append("text").attr("x", 39).attr("y", 950).attr("fill", "#e2403b")
    .style("font-family", "'Noto Sans CJK TC'").style("font-weight", "900").style("font-size", "36px").text("東西");
const logo = svg.append("g").attr("transform", "translate(30,890) scale(0.3333)");
[
    ["#3f3f41", "298,103 365,28 373,35 373,100 338,140"],
    ["#2c2c2e", "338,140 373,100 373,118 352,142"],
    ["#5b5b5e", "262,140 298,103 373,178 338,215"],
    ["#48484b", "262,140 338,215 373,178 373,190 338,222"],
    ["#f2625c", "372,102 407,65 484,143 447,178"],
    ["#d9534f", "447,178 484,143 484,155 447,190"],
    ["#ed4039", "372,180 407,140 447,178 447,190 372,245"],
    ["#c43a34", "385,235 447,185 447,195 375,246"]
].forEach(function (p) {
    logo.append("polygon").attr("points", p[1]).attr("fill", p[0]);
});
svg.append("text").attr("x", 198).attr("y", 953).attr("fill", "#454546")
    .style("font-family", "'Liberation Sans'").style("font-weight", "700").style("font-size", "43px")
    .attr("textLength", 80).attr("lengthAdjust", "spacingAndGlyphs").text("FX");
</script>
</body>
</html>
